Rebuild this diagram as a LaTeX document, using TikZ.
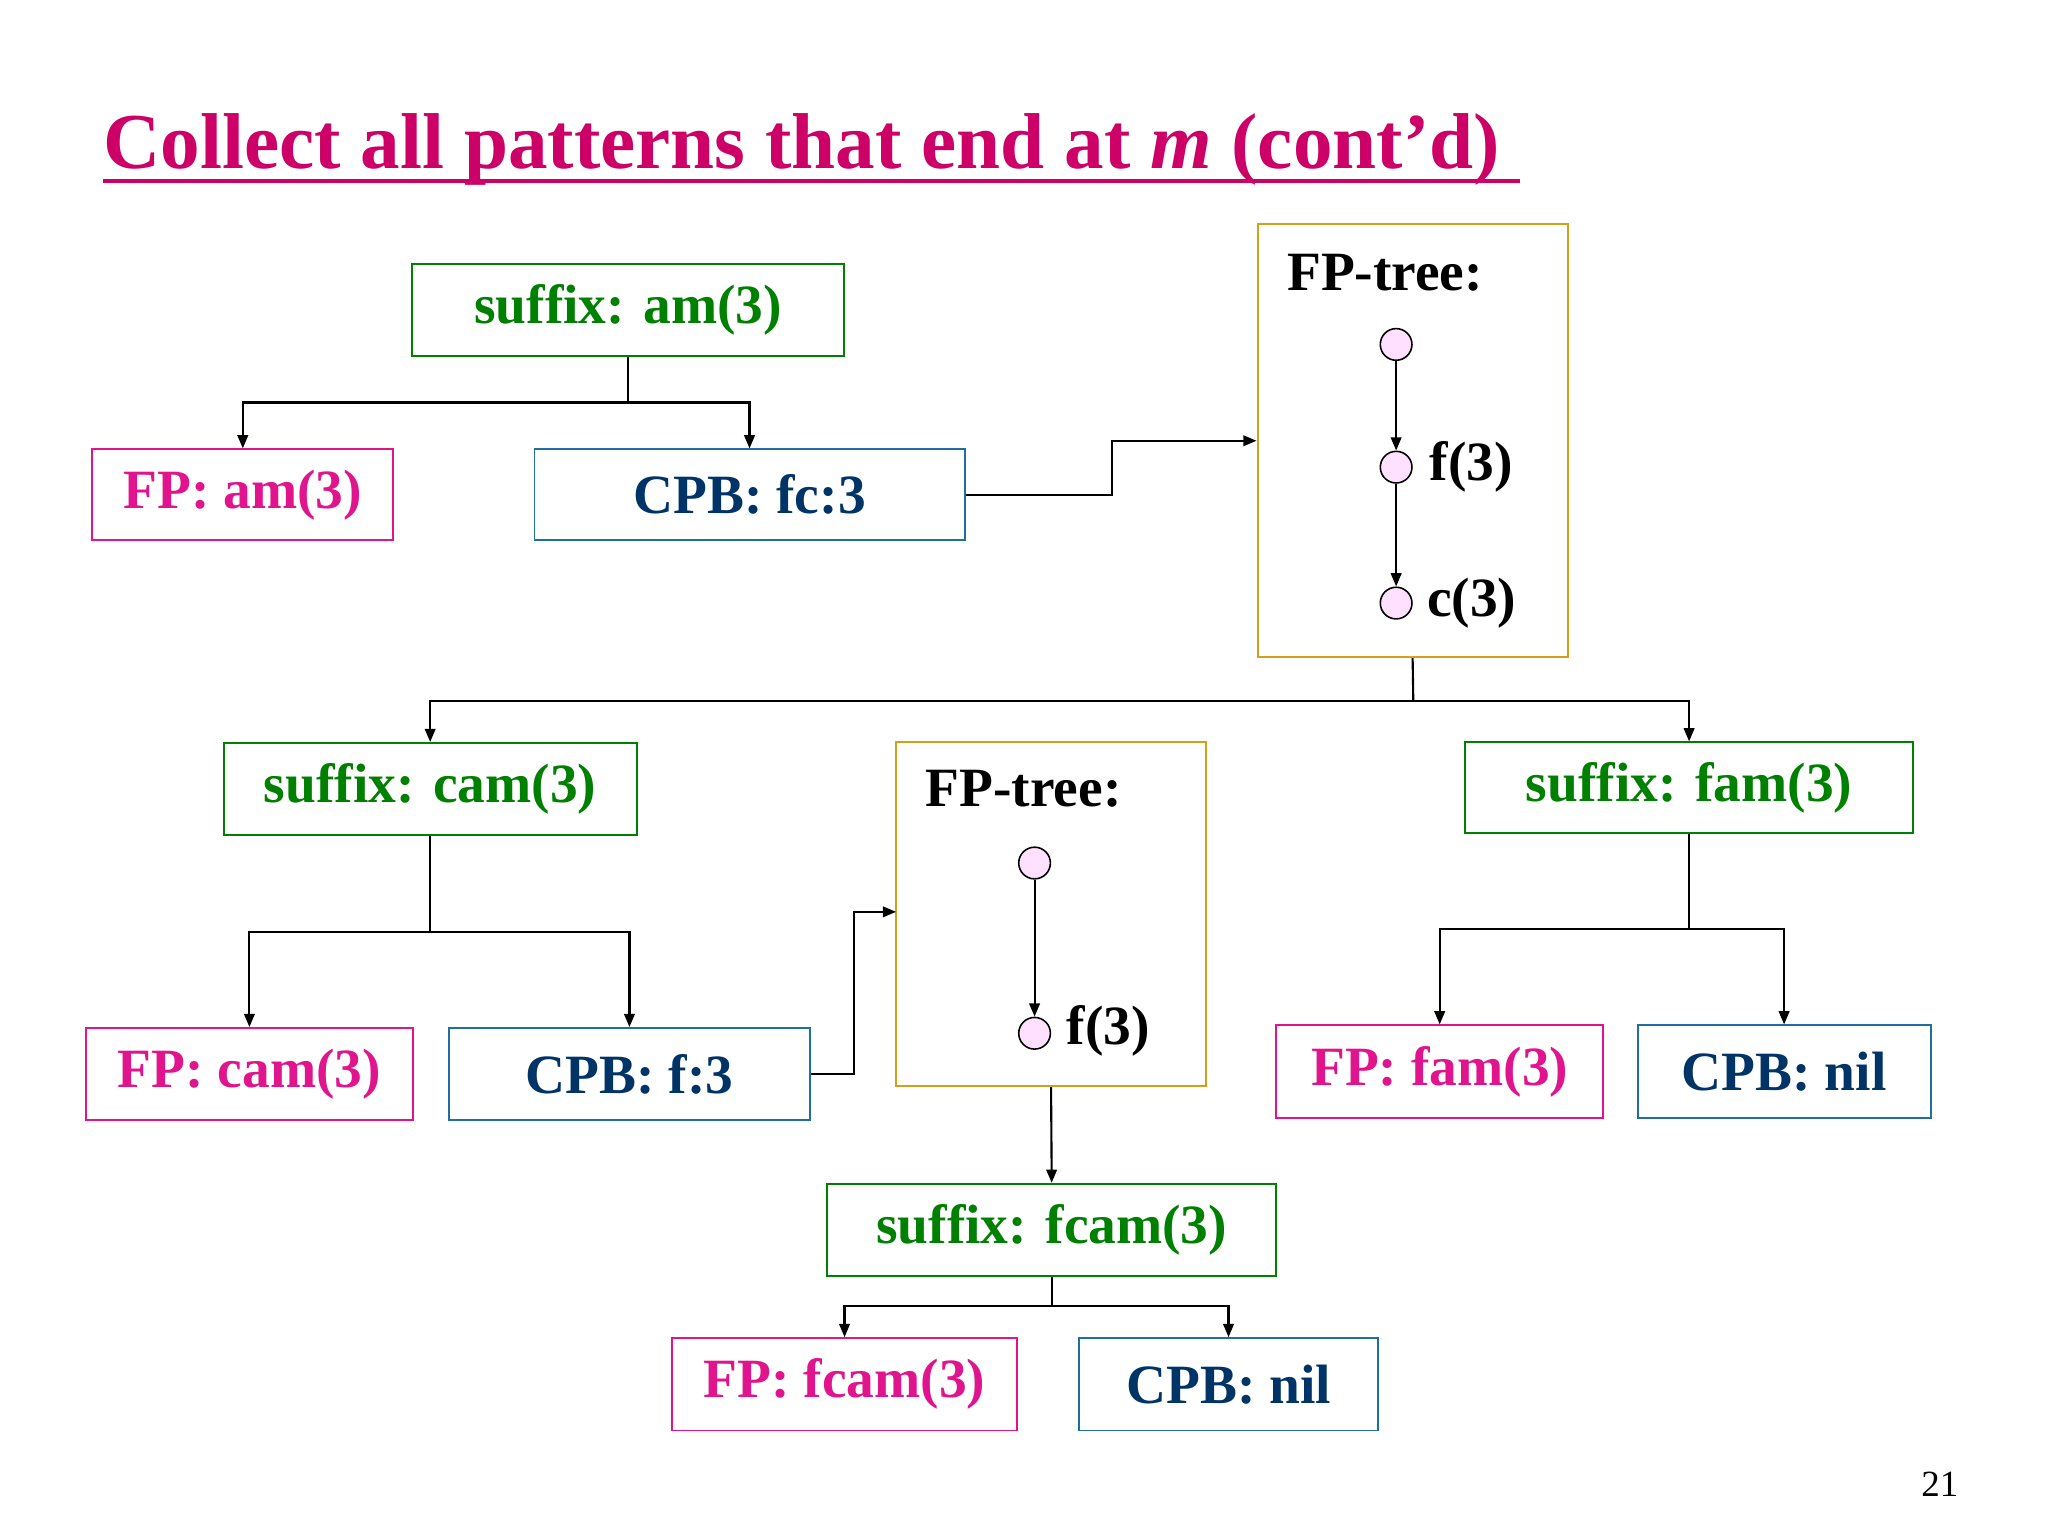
\documentclass[tikz,border=0pt]{standalone}
\usepackage{fontspec}
\setmainfont{Liberation Serif}
\usetikzlibrary{arrows.meta}
\definecolor{ttl}{HTML}{CC0066}
\definecolor{grn}{HTML}{008000}
\definecolor{pnk}{HTML}{E0148C}
\definecolor{dblue}{HTML}{003366}
\definecolor{bblue}{HTML}{1F6F9F}
\definecolor{gold}{HTML}{D4A017}
\definecolor{cfill}{HTML}{FFE0FF}
\begin{document}
\begin{tikzpicture}[x=0.5pt,y=-0.5pt,
  bx/.style={draw,line width=0.7pt,inner sep=0pt,font=\fontsize{21}{24}\selectfont\bfseries},
  sfx/.style={bx,draw=grn,text=grn},
  fpb/.style={bx,draw=pnk,text=pnk},
  cpb/.style={bx,draw=bblue,text=dblue},
  tree/.style={draw=gold,line width=0.8pt,inner sep=0pt},
  cir/.style={circle,draw,fill=cfill,minimum size=12pt,inner sep=0pt,line width=0.6pt},
  lbl/.style={font=\fontsize{21}{24}\selectfont\bfseries,inner sep=1pt},
  con/.style={line width=0.8pt},
  arr/.style={con,-{Triangle[length=5pt,width=4pt]}}]
\useasboundingbox (0,0) rectangle (1552,1164);
\node[anchor=base west,text=ttl,font=\fontsize{30}{33}\selectfont\bfseries,inner sep=0pt] (title) at (78,128) {Collect all patterns that end at \textit{m} (cont’d)};
\draw[ttl,line width=1.3pt] (78,137) -- (1152,137);
\node[sfx,minimum width=163.5pt,minimum height=35pt] (sam) at (476,235) {suffix: am(3)};
\node[fpb,minimum width=114pt,minimum height=34.5pt] (fpam) at (184,375) {FP: am(3)};
\node[cpb,minimum width=163pt,minimum height=34.5pt] (cfc) at (568,375) {CPB: fc:3};
\node[tree,minimum width=117.5pt,minimum height=164pt] (t1) at (1070.5,334) {};
\node[lbl,anchor=west] (t1l) at (973,207) {FP-tree:};
\node[cir] (r1) at (1058,261) {};
\node[cir] (f1) at (1058,354) {};
\node[cir] (c1) at (1058,457) {};
\node[lbl,anchor=west] (f1l) at (1081,354) {f(3)};
\node[lbl,anchor=west] (c1l) at (1079,457) {c(3)};
\draw[arr] (r1) -- (f1);
\draw[arr] (f1) -- (c1);
\coordinate (j1) at (476,305);
\draw[con] (sam.south) -- (j1);
\draw[arr] (j1) -| (fpam.north);
\draw[arr] (j1) -| (cfc.north);
\draw[arr] (cfc.east) -- (843,375) |- (t1.west);
\node[sfx,minimum width=156.5pt,minimum height=35pt] (scam) at (326,598) {suffix: cam(3)};
\node[sfx,minimum width=169.5pt,minimum height=34.5pt] (sfam) at (1280,597) {suffix: fam(3)};
\coordinate (j2) at (1071,531);
\draw[con] (t1.south) -- (j2);
\draw[arr] (j2) -| (scam.north);
\draw[arr] (j2) -| (sfam.north);
\node[tree,minimum width=117.5pt,minimum height=130.5pt] (t2) at (796.5,692.5) {};
\node[lbl,anchor=west] (t2l) at (699,598) {FP-tree:};
\node[cir] (r2) at (784,654) {};
\node[cir] (f2) at (784,783) {};
\node[lbl,anchor=west] (f2l) at (806,781) {f(3)};
\draw[arr] (r2) -- (f2);
\node[fpb,minimum width=124pt,minimum height=35pt] (fpcam) at (189,814) {FP: cam(3)};
\node[cpb,minimum width=137pt,minimum height=35pt] (cf) at (477,814) {CPB: f:3};
\coordinate (j3) at (326,706);
\draw[con] (scam.south) -- (j3);
\draw[arr] (j3) -| (fpcam.north);
\draw[arr] (j3) -| (cf.north);
\draw[arr] (cf.east) -- (647,814) |- (679,691);
\node[fpb,minimum width=124pt,minimum height=35pt] (fpfam) at (1091,812) {FP: fam(3)};
\node[cpb,minimum width=111pt,minimum height=35pt] (cnil1) at (1352,812) {CPB: nil};
\coordinate (j4) at (1280,704);
\draw[con] (sfam.south) -- (j4);
\draw[arr] (j4) -| (fpfam.north);
\draw[arr] (j4) -| (cnil1.north);
\node[sfx,minimum width=170pt,minimum height=35pt] (sfcam) at (797,932) {suffix: fcam(3)};
\draw[arr] (t2.south) -- (sfcam.north);
\node[fpb,minimum width=130.5pt,minimum height=35pt] (fpfcam) at (640,1049) {FP: fcam(3)};
\node[cpb,minimum width=113.5pt,minimum height=35pt] (cnil2) at (931,1049) {CPB: nil};
\coordinate (j5) at (797,990);
\draw[con] (sfcam.south) -- (j5);
\draw[arr] (j5) -| (fpfcam.north);
\draw[arr] (j5) -| (cnil2.north);
\node[font=\fontsize{14}{16}\selectfont,inner sep=0pt] (pg) at (1470,1125) {21};
\end{tikzpicture}
\end{document}
